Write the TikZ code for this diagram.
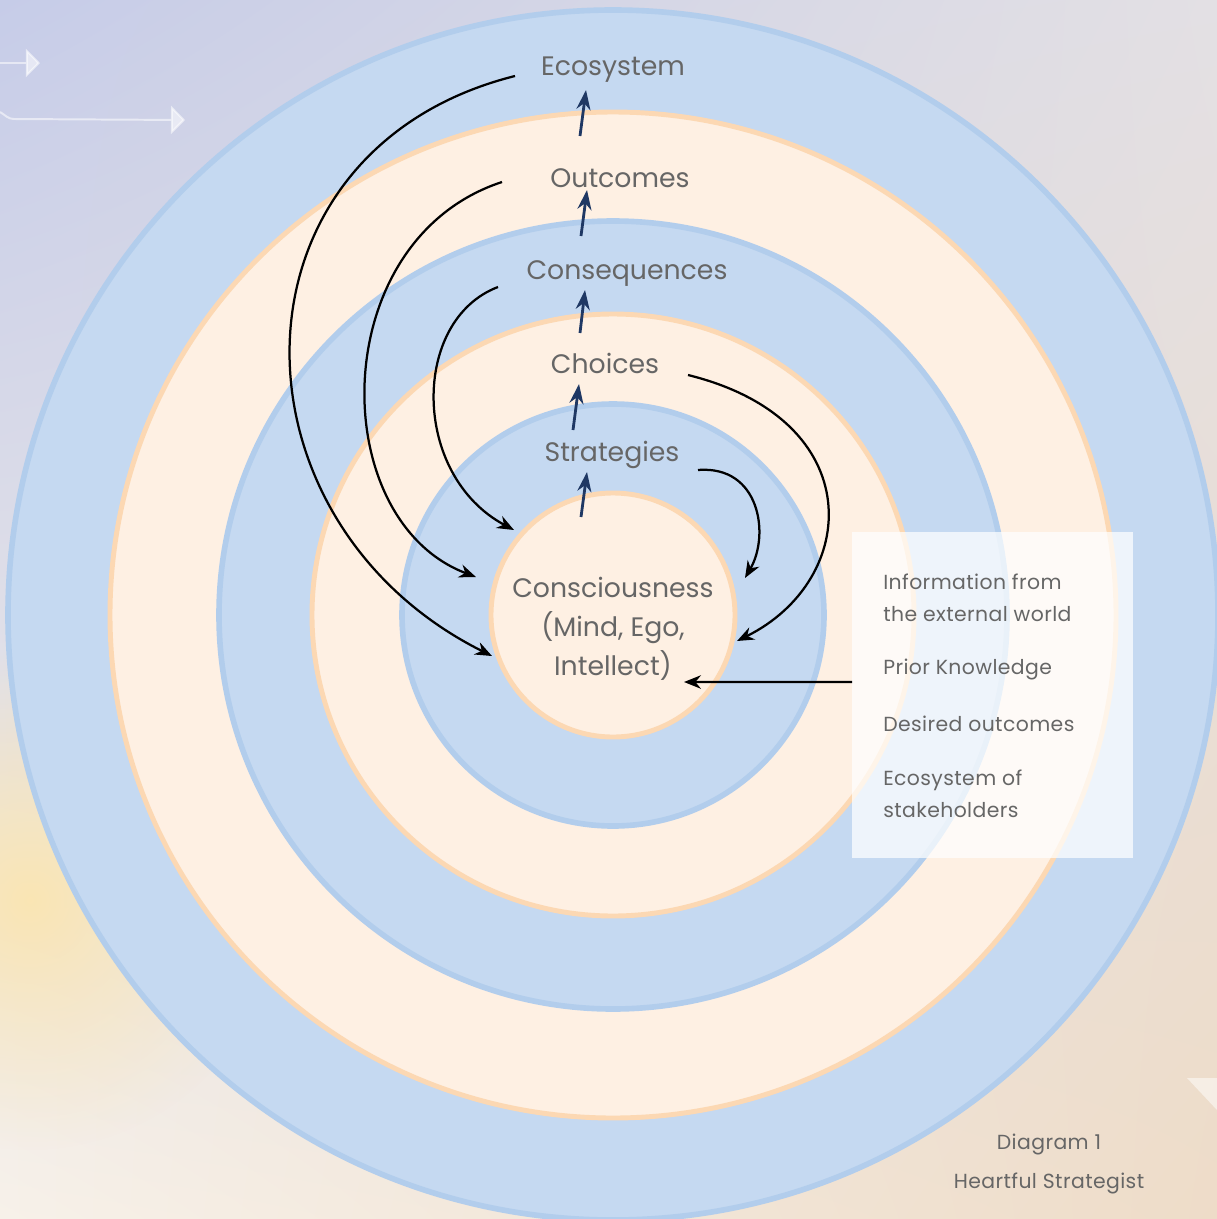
\documentclass[tikz,border=0pt]{standalone}
\usepackage{fontspec}
\setmainfont{Poppins}
\usetikzlibrary{arrows.meta,fadings,shadings}
\definecolor{bgtl}{HTML}{C6CCE8}
\definecolor{bgtr}{HTML}{E3E0E4}
\definecolor{bgbl}{HTML}{F7F1E9}
\definecolor{bgbr}{HTML}{EEDCC8}
\definecolor{glow}{HTML}{FCE5AE}
\definecolor{ringblue}{HTML}{C5D9F1}
\definecolor{ringblueedge}{HTML}{B2CDEC}
\definecolor{ringpeach}{HTML}{FEF0E3}
\definecolor{ringpeachedge}{HTML}{FCD8B3}
\definecolor{labelgray}{HTML}{666666}
\definecolor{navy}{HTML}{1F3864}
\tikzfading[name=glowfade, inner color=transparent!0, outer color=transparent!100]
\tikzset{
  bluering/.style={fill=ringblue, draw=ringblueedge, line width=4pt},
  peachring/.style={fill=ringpeach, draw=ringpeachedge, line width=3.5pt},
  ringlabel/.style={text=labelgray, font=\fontsize{19}{23}\selectfont},
  infotext/.style={text=labelgray, anchor=west, align=left, inner sep=0pt,
    font=\fontsize{14.5}{22.7}\selectfont\addfontfeature{LetterSpace=2}},
  uparrow/.style={navy, line width=2pt, -{Stealth[length=14pt,width=10pt]}},
  loop/.style={black, line width=1.6pt, -{Stealth[length=12pt,width=9.5pt]}},
  bgarrow/.style={white, opacity=.55, line width=1.4pt, -{Triangle[length=10pt,width=20pt]}}
}
\begin{document}
\begin{tikzpicture}[x=0.025cm,y=-0.025cm]
\useasboundingbox (0,0) rectangle (1217,1219);
\clip (0,0) rectangle (1217,1219);
% background
\shade[upper left=bgtl, upper right=bgtr, lower left=bgbl, lower right=bgbr] (0,0) rectangle (1217,1219);
\fill[glow, path fading=glowfade, opacity=.9] (30,900) circle (250);
\draw[bgarrow] (0,63) -- (40,63);
\draw[bgarrow] (0,112) to[out=-30,in=180] (14,119) -- (185,120);
\fill[white, opacity=.5] (1187,1078) -- (1217,1078) -- (1217,1110) -- cycle;
% rings
\foreach \r/\s in {605/bluering,503/peachring,394/bluering,301/peachring,211/bluering,122/peachring}
  \draw[\s] (613,615) circle (\r);
% ring labels
\node[ringlabel] (eco) at (613,70) {Ecosystem};
\node[ringlabel] (out) at (620,178) {Outcomes};
\node[ringlabel] (cons) at (627,274) {Consequences};
\node[ringlabel] (cho) at (605,363) {Choices};
\node[ringlabel] (strat) at (612,455) {Strategies};
\node[ringlabel, align=center, font=\fontsize{19}{27.6}\selectfont] (mind) at (613,629)
  {Consciousness\\(Mind, Ego,\\Intellect)};
% outward steps
\coordinate (s0) at (581,517); \coordinate (s1) at (587,472);
\coordinate (c0) at (573,430); \coordinate (c1) at (579,384);
\coordinate (q0) at (580,333); \coordinate (q1) at (585,290);
\coordinate (o0) at (581,236); \coordinate (o1) at (587,190);
\coordinate (e0) at (580,136); \coordinate (e1) at (586,90);
\draw[uparrow] (s0) -- (s1);
\draw[uparrow] (c0) -- (c1);
\draw[uparrow] (q0) -- (q1);
\draw[uparrow] (o0) -- (o1);
\draw[uparrow] (e0) -- (e1);
% feedback loops
\coordinate (ecoL) at (515,76);   \coordinate (mindA) at (492,656);
\coordinate (outL) at (502,182);  \coordinate (mindB) at (476,577);
\coordinate (consL) at (498,287); \coordinate (mindC) at (514,530);
\coordinate (choR) at (688,375);  \coordinate (mindD) at (737,641);
\coordinate (stratR) at (698,470); \coordinate (mindE) at (745,578);
\draw[loop] (ecoL) .. controls (220,150) and (220,520) .. (mindA);
\draw[loop] (outL) .. controls (325,240) and (325,520) .. (mindB);
\draw[loop] (consL) .. controls (411,320) and (411,475) .. (mindC);
\draw[loop] (choR) .. controls (870,420) and (860,580) .. (mindD);
\draw[loop] (stratR) .. controls (760,465) and (770,535) .. (mindE);
% inputs
\node[fill=white, opacity=.72, minimum width=199.7pt, minimum height=231.5pt,
  inner sep=0pt, anchor=north west] (info) at (852,532) {};
\node[infotext] (inf1) at (883,598) {Information from\\the external world};
\node[infotext] (inf2) at (883,669) {Prior Knowledge};
\node[infotext] (inf3) at (883,724) {Desired outcomes};
\node[infotext] (inf4) at (883,794) {Ecosystem of\\stakeholders};
\coordinate (mindR) at (684,682);
\draw[loop] ([yshift=9.2pt]info.west) -- (mindR);
% caption
\node[text=labelgray, font=\fontsize{14.5}{27.6}\selectfont\addfontfeature{LetterSpace=2},
  align=center] (cap) at (1049,1164) {Diagram 1\\Heartful Strategist};
\end{tikzpicture}
\end{document}
